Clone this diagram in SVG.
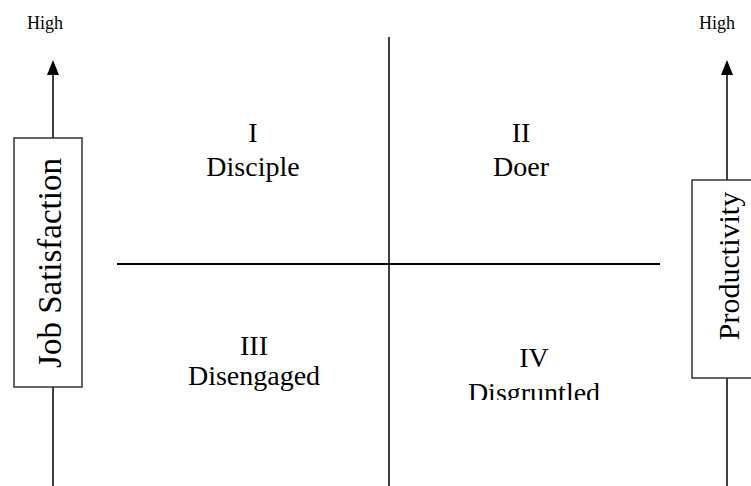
<svg xmlns="http://www.w3.org/2000/svg" width="751" height="486" viewBox="0 0 751 486">
<style>
.t{font-family:"Liberation Serif","Times New Roman",serif;fill:#000}
.big{font-size:28px;text-anchor:middle}
.axis{font-size:30px;text-anchor:middle}
.axis2{font-size:33px;text-anchor:middle}
.small{font-size:18px}
.box{fill:#fff;stroke:#333;stroke-width:1.5}
.ln{stroke:#000;stroke-width:1.5;fill:none}
.head{fill:#000}
</style>
<defs>
<clipPath id="clipIV"><rect x="400" y="300" width="300" height="100"/></clipPath>
</defs>
<g id="connectors">
<line class="ln" x1="53" y1="138" x2="53" y2="72"/>
<polygon class="head" points="53,60 47,75 59,75"/>
<line class="ln" x1="53" y1="387" x2="53" y2="486"/>
<line class="ln" x1="727" y1="180" x2="727" y2="72"/>
<polygon class="head" points="727,60 721,75 733,75"/>
<line class="ln" x1="727" y1="378" x2="727" y2="486"/>
<line class="ln" x1="389" y1="37" x2="389" y2="486"/>
<line x1="117" y1="264" x2="660" y2="264" stroke="#000" stroke-width="2"/>
</g>
<g id="high-left"><text class="t small" x="27" y="29">High</text></g>
<g id="high-right"><text class="t small" x="699" y="29">High</text></g>
<g id="job-satisfaction">
<rect class="box" x="14" y="138" width="68" height="249"/>
<text class="t axis2" transform="translate(61,263) rotate(-90)">Job Satisfaction</text>
</g>
<g id="productivity">
<rect class="box" x="692" y="180" width="70" height="198"/>
<text class="t axis" transform="translate(739,266) rotate(-90)">Productivity</text>
</g>
<g id="q1"><text class="t big" x="253" y="142">I</text><text class="t big" x="253" y="176">Disciple</text></g>
<g id="q2"><text class="t big" x="521" y="142">II</text><text class="t big" x="521" y="176">Doer</text></g>
<g id="q3"><text class="t big" x="254" y="355">III</text><text class="t big" x="254" y="385">Disengaged</text></g>
<g id="q4" clip-path="url(#clipIV)"><text class="t big" x="534" y="367">IV</text><text class="t big" x="534" y="402">Disgruntled</text></g>
</svg>
